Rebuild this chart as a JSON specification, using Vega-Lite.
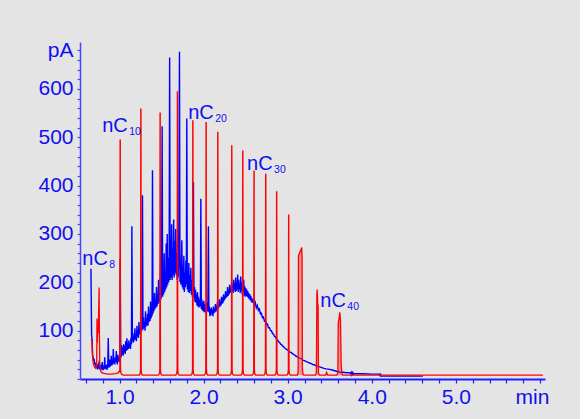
{
  "$schema": "https://vega.github.io/schema/vega-lite/v6.json",
  "width": 465,
  "height": 337,
  "autosize": {"type": "none"},
  "padding": {"left": 80, "top": 42, "right": 35, "bottom": 40},
  "background": "#e4e4e4",
  "config": {"view": {"stroke": null}},
  "datasets": {
    "blue": [
      {"t":0.660,"v":228},{"t":0.668,"v":90},{"t":0.674,"v":82},{"t":0.680,"v":50},{"t":0.686,"v":45},{"t":0.692,"v":38},{"t":0.698,"v":42},{"t":0.704,"v":30},{"t":0.710,"v":34},{"t":0.716,"v":26},{"t":0.722,"v":30},{"t":0.728,"v":22},{"t":0.734,"v":28},{"t":0.740,"v":20},{"t":0.746,"v":32},{"t":0.752,"v":22},{"t":0.758,"v":38},{"t":0.764,"v":20},{"t":0.770,"v":26},{"t":0.776,"v":18},{"t":0.782,"v":30},{"t":0.788,"v":20},{"t":0.794,"v":35},{"t":0.800,"v":22},{"t":0.806,"v":18},{"t":0.812,"v":28},{"t":0.818,"v":20},{"t":0.824,"v":45},{"t":0.830,"v":22},{"t":0.836,"v":26},{"t":0.842,"v":20},{"t":0.848,"v":30},{"t":0.854,"v":22},{"t":0.860,"v":24},{"t":0.866,"v":85},{"t":0.872,"v":28},{"t":0.878,"v":24},{"t":0.884,"v":40},{"t":0.890,"v":26},{"t":0.896,"v":30},{"t":0.902,"v":48},{"t":0.908,"v":28},{"t":0.914,"v":35},{"t":0.920,"v":30},{"t":0.926,"v":62},{"t":0.932,"v":32},{"t":0.938,"v":40},{"t":0.944,"v":30},{"t":0.950,"v":45},{"t":0.956,"v":35},{"t":0.962,"v":58},{"t":0.968,"v":38},{"t":0.974,"v":30},{"t":0.980,"v":50},{"t":0.986,"v":36},{"t":0.992,"v":42},{"t":0.998,"v":35},{"t":1.004,"v":55},{"t":1.008,"v":249},
      {"t":1.014,"v":60},{"t":1.020,"v":45},{"t":1.026,"v":70},{"t":1.032,"v":50},{"t":1.038,"v":65},{"t":1.044,"v":48},{"t":1.050,"v":72},{"t":1.056,"v":55},{"t":1.062,"v":68},{"t":1.068,"v":52},{"t":1.074,"v":78},{"t":1.080,"v":58},{"t":1.088,"v":84},{"t":1.094,"v":60},{"t":1.100,"v":74},{"t":1.106,"v":62},{"t":1.112,"v":80},{"t":1.118,"v":65},{"t":1.124,"v":70},{"t":1.130,"v":62},{"t":1.136,"v":85},{"t":1.142,"v":72},{"t":1.147,"v":316},{"t":1.153,"v":78},{"t":1.159,"v":95},{"t":1.165,"v":75},{"t":1.171,"v":88},{"t":1.177,"v":80},{"t":1.183,"v":105},{"t":1.189,"v":82},{"t":1.195,"v":92},{"t":1.201,"v":78},{"t":1.207,"v":110},{"t":1.213,"v":88},{"t":1.219,"v":100},{"t":1.225,"v":85},{"t":1.231,"v":118},{"t":1.237,"v":92},{"t":1.243,"v":104},{"t":1.249,"v":95},{"t":1.255,"v":125},{"t":1.261,"v":98},{"t":1.267,"v":110},{"t":1.273,"v":380},{"t":1.279,"v":102},{"t":1.285,"v":128},{"t":1.291,"v":105},{"t":1.297,"v":118},{"t":1.303,"v":100},{"t":1.309,"v":140},{"t":1.315,"v":108},{"t":1.321,"v":125},{"t":1.327,"v":112},{"t":1.333,"v":135},{"t":1.339,"v":110},{"t":1.345,"v":150},{"t":1.351,"v":118},{"t":1.357,"v":132},{"t":1.363,"v":120},{"t":1.369,"v":160},{"t":1.375,"v":125},{"t":1.381,"v":145},{"t":1.387,"v":130},{"t":1.392,"v":432},{"t":1.398,"v":135},{"t":1.404,"v":168},{"t":1.410,"v":140},{"t":1.416,"v":178},{"t":1.422,"v":145},{"t":1.428,"v":160},{"t":1.434,"v":148},{"t":1.440,"v":190},{"t":1.446,"v":150},{"t":1.452,"v":175},{"t":1.458,"v":155},{"t":1.464,"v":205},{"t":1.470,"v":160},{"t":1.476,"v":185},{"t":1.482,"v":158},{"t":1.488,"v":240},{"t":1.494,"v":165},{"t":1.500,"v":200},{"t":1.507,"v":523},{"t":1.513,"v":170},{"t":1.519,"v":230},{"t":1.525,"v":175},{"t":1.531,"v":260},{"t":1.537,"v":180},{"t":1.543,"v":215},{"t":1.549,"v":185},{"t":1.555,"v":280},{"t":1.561,"v":190},{"t":1.567,"v":300},{"t":1.573,"v":195},{"t":1.579,"v":250},{"t":1.585,"v":200},{"t":1.590,"v":240},{"t":1.596,"v":665},{"t":1.602,"v":205},{"t":1.608,"v":290},{"t":1.614,"v":210},{"t":1.620,"v":320},{"t":1.626,"v":205},{"t":1.632,"v":270},{"t":1.638,"v":215},{"t":1.644,"v":330},{"t":1.650,"v":210},{"t":1.656,"v":285},{"t":1.662,"v":220},{"t":1.668,"v":310},{"t":1.674,"v":215},{"t":1.680,"v":260},{"t":1.686,"v":205},{"t":1.692,"v":300},{"t":1.698,"v":210},{"t":1.704,"v":250},{"t":1.713,"v":677},{"t":1.719,"v":200},{"t":1.725,"v":240},{"t":1.731,"v":195},{"t":1.741,"v":287},{"t":1.747,"v":190},{"t":1.753,"v":235},{"t":1.759,"v":185},{"t":1.765,"v":255},{"t":1.771,"v":180},{"t":1.777,"v":220},{"t":1.783,"v":190},{"t":1.789,"v":245},{"t":1.795,"v":195},{"t":1.800,"v":539},{"t":1.806,"v":185},{"t":1.812,"v":225},{"t":1.818,"v":180},{"t":1.824,"v":240},{"t":1.830,"v":178},{"t":1.836,"v":215},{"t":1.842,"v":182},{"t":1.848,"v":230},{"t":1.854,"v":175},{"t":1.860,"v":205},{"t":1.866,"v":170},{"t":1.872,"v":195},{"t":1.879,"v":407},{"t":1.885,"v":168},{"t":1.891,"v":190},{"t":1.897,"v":160},{"t":1.903,"v":185},{"t":1.909,"v":158},{"t":1.915,"v":175},{"t":1.921,"v":152},{"t":1.927,"v":180},{"t":1.933,"v":150},{"t":1.939,"v":170},{"t":1.945,"v":148},{"t":1.951,"v":165},{"t":1.957,"v":150},{"t":1.962,"v":160},{"t":1.967,"v":373},{"t":1.973,"v":145},{"t":1.979,"v":165},{"t":1.985,"v":142},{"t":1.991,"v":158},{"t":1.997,"v":140},{"t":2.003,"v":162},{"t":2.009,"v":138},{"t":2.015,"v":155},{"t":2.021,"v":140},{"t":2.027,"v":150},{"t":2.033,"v":135},{"t":2.039,"v":158},{"t":2.045,"v":140},{"t":2.051,"v":150},{"t":2.057,"v":316},{"t":2.063,"v":138},{"t":2.069,"v":150},{"t":2.075,"v":130},{"t":2.081,"v":145},{"t":2.087,"v":132},{"t":2.093,"v":148},{"t":2.099,"v":135},{"t":2.105,"v":142},{"t":2.111,"v":130},{"t":2.117,"v":150},{"t":2.123,"v":136},{"t":2.129,"v":145},{"t":2.135,"v":138},{"t":2.141,"v":155},{"t":2.147,"v":140},{"t":2.153,"v":150},{"t":2.159,"v":142},{"t":2.165,"v":160},{"t":2.171,"v":145},{"t":2.177,"v":155},{"t":2.183,"v":148},{"t":2.189,"v":165},{"t":2.195,"v":150},{"t":2.201,"v":160},{"t":2.207,"v":152},{"t":2.213,"v":170},{"t":2.219,"v":155},{"t":2.225,"v":168},{"t":2.231,"v":158},{"t":2.237,"v":175},{"t":2.243,"v":162},{"t":2.249,"v":172},{"t":2.255,"v":165},{"t":2.261,"v":182},{"t":2.267,"v":168},{"t":2.273,"v":178},{"t":2.279,"v":170},{"t":2.285,"v":190},{"t":2.291,"v":172},{"t":2.297,"v":185},{"t":2.303,"v":175},{"t":2.309,"v":195},{"t":2.315,"v":178},{"t":2.321,"v":188},{"t":2.327,"v":180},{"t":2.333,"v":200},{"t":2.339,"v":182},{"t":2.345,"v":195},{"t":2.351,"v":178},{"t":2.357,"v":205},{"t":2.363,"v":185},{"t":2.369,"v":198},{"t":2.375,"v":180},{"t":2.381,"v":210},{"t":2.387,"v":182},{"t":2.393,"v":200},{"t":2.399,"v":185},{"t":2.405,"v":216},{"t":2.411,"v":180},{"t":2.417,"v":205},{"t":2.423,"v":185},{"t":2.429,"v":198},{"t":2.435,"v":178},{"t":2.441,"v":212},{"t":2.447,"v":182},{"t":2.453,"v":200},{"t":2.459,"v":175},{"t":2.465,"v":195},{"t":2.471,"v":180},{"t":2.477,"v":205},{"t":2.483,"v":172},{"t":2.489,"v":192},{"t":2.495,"v":170},{"t":2.501,"v":188},
      {"t":2.507,"v":172},{"t":2.513,"v":185},{"t":2.519,"v":170},{"t":2.525,"v":182},{"t":2.531,"v":168},{"t":2.537,"v":178},{"t":2.543,"v":165},{"t":2.549,"v":175},{"t":2.555,"v":163},{"t":2.561,"v":172},{"t":2.567,"v":160},{"t":2.573,"v":168},{"t":2.579,"v":158},{"t":2.591,"v":163},{"t":2.603,"v":152},{"t":2.615,"v":158},{"t":2.627,"v":147},{"t":2.639,"v":152},{"t":2.651,"v":142},{"t":2.663,"v":145},{"t":2.675,"v":135},{"t":2.687,"v":136},{"t":2.699,"v":127},{"t":2.711,"v":128},{"t":2.723,"v":120},{"t":2.735,"v":121},{"t":2.747,"v":113},{"t":2.759,"v":114},{"t":2.771,"v":106},{"t":2.783,"v":106},{"t":2.795,"v":100},{"t":2.807,"v":100},{"t":2.819,"v":94},{"t":2.831,"v":93},{"t":2.843,"v":88},{"t":2.855,"v":87},{"t":2.867,"v":82},{"t":2.879,"v":81},{"t":2.891,"v":77},{"t":2.903,"v":76},{"t":2.915,"v":72},{"t":2.927,"v":71},{"t":2.939,"v":68},{"t":2.951,"v":67},{"t":2.963,"v":64},{"t":2.975,"v":63},{"t":2.987,"v":61},{"t":3.000,"v":60},{"t":3.020,"v":56},{"t":3.040,"v":55},{"t":3.060,"v":52},{"t":3.080,"v":50},{"t":3.100,"v":47},{"t":3.120,"v":46},{"t":3.140,"v":43},{"t":3.160,"v":42},{"t":3.180,"v":39},{"t":3.200,"v":38},{"t":3.220,"v":36},{"t":3.240,"v":35},{"t":3.260,"v":33},{"t":3.280,"v":32},{"t":3.300,"v":30},{"t":3.320,"v":29},{"t":3.340,"v":27},{"t":3.360,"v":26},{"t":3.380,"v":25},{"t":3.400,"v":24},{"t":3.430,"v":22},{"t":3.460,"v":21},{"t":3.500,"v":20},{"t":3.540,"v":18},{"t":3.580,"v":16},{"t":3.620,"v":14},{"t":3.660,"v":14},{"t":3.700,"v":13},{"t":3.745,"v":13},{"t":3.750,"v":11},{"t":3.760,"v":14},{"t":3.765,"v":9},{"t":3.775,"v":13},{"t":3.780,"v":10},{"t":3.800,"v":11},{"t":3.900,"v":11},{"t":4.000,"v":10},{"t":4.090,"v":10},{"t":4.100,"v":7},{"t":4.105,"v":9},{"t":4.110,"v":6},{"t":4.607,"v":6}
    ],
    "red": [
      {"t":0.664,"v":82},{"t":0.672,"v":78},{"t":0.678,"v":50},{"t":0.686,"v":35},{"t":0.696,"v":28},{"t":0.706,"v":24},{"t":0.716,"v":22},{"t":0.724,"v":25},{"t":0.729,"v":40},{"t":0.732,"v":125},{"t":0.736,"v":75},{"t":0.741,"v":112},{"t":0.746,"v":95},{"t":0.751,"v":130},{"t":0.757,"v":189},{"t":0.761,"v":90},{"t":0.765,"v":30},{"t":0.772,"v":18},{"t":0.785,"v":14},{"t":0.800,"v":12},{"t":0.830,"v":11},{"t":0.860,"v":10},{"t":0.900,"v":10},{"t":0.950,"v":11},{"t":0.980,"v":12},{"t":0.990,"v":15},
      {"t":1.000,"v":15},{"t":1.004,"v":20},{"t":1.007,"v":494},{"t":1.009,"v":494},{"t":1.012,"v":20},{"t":1.018,"v":12},{"t":1.030,"v":9},{"t":1.050,"v":8},
      {"t":1.234,"v":8},{"t":1.246,"v":12},{"t":1.250,"v":20},{"t":1.253,"v":558},{"t":1.255,"v":558},{"t":1.258,"v":20},{"t":1.262,"v":11},{"t":1.274,"v":8},
      {"t":1.463,"v":8},{"t":1.475,"v":12},{"t":1.479,"v":20},{"t":1.482,"v":550},{"t":1.484,"v":550},{"t":1.487,"v":20},{"t":1.491,"v":11},{"t":1.503,"v":8},
      {"t":1.669,"v":8},{"t":1.681,"v":12},{"t":1.685,"v":20},{"t":1.688,"v":594},{"t":1.690,"v":594},{"t":1.693,"v":20},{"t":1.697,"v":11},{"t":1.709,"v":8},
      {"t":1.852,"v":8},{"t":1.864,"v":12},{"t":1.868,"v":20},{"t":1.871,"v":534},{"t":1.873,"v":534},{"t":1.876,"v":20},{"t":1.880,"v":11},{"t":1.892,"v":8},
      {"t":2.010,"v":8},{"t":2.022,"v":12},{"t":2.026,"v":20},{"t":2.029,"v":530},{"t":2.031,"v":530},{"t":2.034,"v":20},{"t":2.038,"v":11},{"t":2.050,"v":8},
      {"t":2.149,"v":8},{"t":2.161,"v":12},{"t":2.165,"v":20},{"t":2.168,"v":510},{"t":2.170,"v":510},{"t":2.173,"v":20},{"t":2.177,"v":11},{"t":2.189,"v":8},
      {"t":2.315,"v":8},{"t":2.327,"v":12},{"t":2.331,"v":20},{"t":2.334,"v":482},{"t":2.336,"v":482},{"t":2.339,"v":20},{"t":2.343,"v":11},{"t":2.355,"v":8},
      {"t":2.446,"v":8},{"t":2.458,"v":12},{"t":2.462,"v":20},{"t":2.465,"v":471},{"t":2.467,"v":471},{"t":2.470,"v":20},{"t":2.474,"v":11},{"t":2.486,"v":8},
      {"t":2.580,"v":8},{"t":2.592,"v":12},{"t":2.596,"v":20},{"t":2.599,"v":430},{"t":2.601,"v":430},{"t":2.604,"v":20},{"t":2.608,"v":11},{"t":2.620,"v":8},
      {"t":2.719,"v":8},{"t":2.731,"v":12},{"t":2.735,"v":20},{"t":2.738,"v":423},{"t":2.740,"v":423},{"t":2.743,"v":20},{"t":2.747,"v":11},{"t":2.759,"v":8},
      {"t":2.849,"v":8},{"t":2.861,"v":12},{"t":2.865,"v":20},{"t":2.868,"v":387},{"t":2.870,"v":387},{"t":2.873,"v":20},{"t":2.877,"v":11},{"t":2.889,"v":8},
      {"t":2.992,"v":8},{"t":3.004,"v":12},{"t":3.008,"v":20},{"t":3.011,"v":339},{"t":3.013,"v":339},{"t":3.016,"v":20},{"t":3.020,"v":11},{"t":3.032,"v":8},
      {"t":3.115,"v":8},{"t":3.124,"v":14},{"t":3.128,"v":255},{"t":3.150,"v":264},{"t":3.167,"v":272},{"t":3.171,"v":250},{"t":3.175,"v":20},{"t":3.182,"v":10},{"t":3.192,"v":8},
      {"t":3.330,"v":8},{"t":3.340,"v":12},{"t":3.343,"v":60},{"t":3.347,"v":175},{"t":3.351,"v":185},{"t":3.356,"v":157},{"t":3.362,"v":150},{"t":3.366,"v":12},{"t":3.378,"v":8},
      {"t":3.450,"v":8},{"t":3.463,"v":14},{"t":3.476,"v":8},
      {"t":3.585,"v":8},{"t":3.597,"v":14},{"t":3.601,"v":115},{"t":3.610,"v":125},{"t":3.620,"v":138},{"t":3.628,"v":120},{"t":3.636,"v":29},{"t":3.644,"v":12},{"t":3.656,"v":8},
      {"t":6.035,"v":8}
    ],
    "labels": [
      {"t":0.557,"v":235.8,"s":"8"},
      {"t":0.7945,"v":511.5,"s":"10"},
      {"t":1.8159,"v":537.1,"s":"20"},
      {"t":2.5166,"v":432.3,"s":"30"},
      {"t":3.3884,"v":149.5,"s":"40"}
    ]
  },
  "encoding": {
    "x": {
      "field": "t", "type": "quantitative",
      "scale": {"domain": [0.53, 6.06], "nice": false, "zero": false},
      "axis": {
        "title": null, "grid": false,
        "values": [0.6,0.8,1,1.2,1.4,1.6,1.8,2,2.2,2.4,2.6,2.8,3,3.2,3.4,3.6,3.8,4,4.2,4.4,4.6,4.8,5,5.2,5.4,5.6,5.8,6],
        "labelExpr": "datum.value == 6 ? 'min' : ((datum.value == 1 || datum.value == 2 || datum.value == 3 || datum.value == 4 || datum.value == 5) ? format(datum.value, '.1f') : '')",
        "labelOverlap": false, "labelFlush": false, "labelBound": false,
        "labelFont": "Liberation Sans", "labelFontSize": 21, "labelColor": "#1010f0",
        "labelPadding": 3,
        "labelOffset": {"condition": {"test": "datum.value == 6", "value": -8}, "value": 0},
        "domainColor": "#2020ff", "domainWidth": 2,
        "tickColor": "#2020ff", "tickSize": 4, "tickWidth": 1.2
      }
    },
    "y": {
      "field": "v", "type": "quantitative",
      "scale": {"domain": [0, 697], "nice": false},
      "axis": {
        "title": null, "grid": false,
        "values": [0,20,40,60,80,100,120,140,160,180,200,220,240,260,280,300,320,340,360,380,400,420,440,460,480,500,520,540,560,580,600,620,640,660,680],
        "labelExpr": "datum.value == 680 ? 'pA' : ((datum.value > 0 && datum.value % 100 == 0) ? datum.label : '')",
        "labelOverlap": false, "labelFlush": false, "labelBound": false,
        "labelFont": "Liberation Sans", "labelFontSize": 21, "labelColor": "#1010f0",
        "labelPadding": 4,
        "domainColor": "#4848ff", "domainWidth": 1.5,
        "tickColor": "#4848ff", "tickSize": 3, "tickWidth": 1.2
      }
    }
  },
  "layer": [
    {
      "data": {"name": "blue"},
      "mark": {"type": "line", "color": "#0000ff", "strokeWidth": 1.4, "interpolate": "linear"}
    },
    {
      "data": {"name": "red"},
      "transform": [{"filter": "datum.t > 3.1 && datum.t < 3.7"}],
      "mark": {"type": "area", "color": "#ff3030", "opacity": 0.45},
      "encoding": {"y2": {"datum": 8}}
    },
    {
      "data": {"name": "red"},
      "mark": {"type": "line", "color": "#ff0000", "strokeWidth": 1.3, "interpolate": "linear"}
    },
    {
      "data": {"name": "labels"},
      "mark": {"type": "text", "align": "left", "baseline": "alphabetic", "font": "Liberation Sans", "fontSize": 20, "color": "#1010f0"},
      "encoding": {"text": {"value": "nC"}}
    },
    {
      "data": {"name": "labels"},
      "mark": {"type": "text", "align": "left", "baseline": "alphabetic", "font": "Liberation Sans", "fontSize": 10.5, "color": "#1010f0", "dx": 27, "dy": 3},
      "encoding": {"text": {"field": "s"}}
    }
  ]
}
